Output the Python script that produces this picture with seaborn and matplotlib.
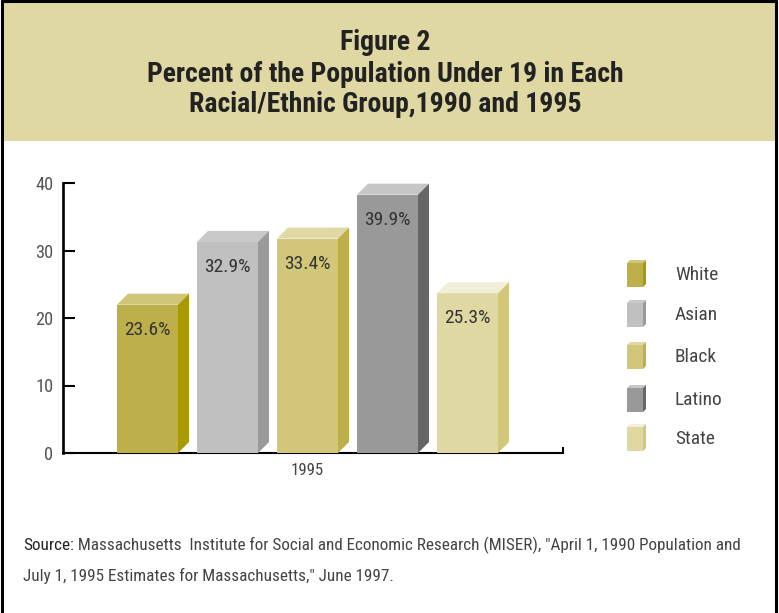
import matplotlib
matplotlib.use("Agg")
import matplotlib.pyplot as plt
from matplotlib import font_manager as fm
from matplotlib.patches import Polygon, Rectangle
from matplotlib.lines import Line2D
import seaborn as sns
import pandas as pd

# ---------------- data ----------------
groups = ["White", "Asian", "Black", "Latino", "State"]
values = [23.6, 32.9, 33.4, 39.9, 25.3]
year_label = "1995"
y_ticks = [0, 10, 20, 30, 40]
title_lines = ["Figure 2",
               "Percent of the Population Under 19 in Each",
               "Racial/Ethnic Group,1990 and 1995"]
source_head = "Source:"
source_line1 = " Massachusetts  Institute for Social and Economic Research (MISER), \"April 1, 1990 Population and"
source_line2 = "July 1, 1995 Estimates for Massachusetts,\" June 1997."

# ---------------- styles ----------------
front_colors = {"White": "#bdb04a", "Asian": "#c0c0c0", "Black": "#d1c67a",
                "Latino": "#999999", "State": "#dfd8a3"}
side_colors = {"White": "#a89a00", "Asian": "#9a9a9a", "Black": "#bdb04a",
               "Latino": "#666666", "State": "#d1c67a"}
top_colors = {"White": "#d0c67a", "Asian": "#c9c9c9", "Black": "#e0d9a5",
              "Latino": "#c6c6c6", "State": "#f2efd9"}

W, H = 779, 613
sns.set_theme(style="white")

# pick a narrow font if one is installed
names = {f.name for f in fm.fontManager.ttflist}
stretch = "normal"
body = None
for n in ["Liberation Sans Narrow", "Roboto Condensed", "Open Sans Condensed", "DejaVu Sans Condensed"]:
    if n in names:
        body = n
        break
if body is None:
    if any(f.name == "DejaVu Sans" and str(f.stretch) in ("condensed", "semi-condensed") for f in fm.fontManager.ttflist):
        body = "DejaVu Sans"
        stretch = "condensed"
    else:
        body = "Liberation Sans"
FAM = [body, "DejaVu Sans"]
plt.rcParams["font.family"] = FAM
plt.rcParams["font.stretch"] = stretch

fig = plt.figure(figsize=(W / 100, H / 100), dpi=100)
fig.patch.set_facecolor("white")
renderer = fig.canvas.get_renderer()


def fx(x):
    return x / W


def fy(y):
    return 1 - y / H


def fit(t, target_px, max_size=None):
    bb = t.get_window_extent(renderer=renderer)
    size = t.get_fontsize() * target_px / bb.width
    if max_size is not None:
        size = min(size, max_size)
    t.set_fontsize(size)
    return size


def size_for(text, target_px, weight="normal"):
    t = fig.text(0, 0, text, fontsize=10, fontweight=weight, family=FAM, fontstretch=stretch)
    s = fit(t, target_px)
    t.remove()
    return s


# header band and frame
fig.add_artist(Rectangle((fx(3), fy(141)), 772 / W, 141 / H, transform=fig.transFigure,
                         facecolor="#dfd8a3", edgecolor="none", zorder=0))
fig.add_artist(Line2D([fx(2), fx(2)], [0, fy(1)], transform=fig.transFigure, color="black", lw=2.2))
fig.add_artist(Line2D([fx(776), fx(776)], [0, fy(1)], transform=fig.transFigure, color="black", lw=2.2))
fig.add_artist(Line2D([fx(2), fx(776)], [fy(1), fy(1)], transform=fig.transFigure, color="black", lw=2.2))

# title
title_size = min(size_for(title_lines[1], 488, "bold"), 20)
for i, line in enumerate(title_lines):
    fig.text(fx(385), fy(43 + 31 * i), line, ha="center", va="center",
             fontsize=title_size, fontweight="bold", color="#222222")

# ---------------- axes ----------------
ax_left, ax_right, ax_top, ax_bottom = 63, 563, 183, 453
ax = fig.add_axes([fx(ax_left), fy(ax_bottom), (ax_right - ax_left) / W, (ax_bottom - ax_top) / H])
ax.set_facecolor("none")

XMIN, XMAX = -0.489, 0.511
YMAX = 40
px_x = (XMAX - XMIN) / (ax_right - ax_left)
px_y = YMAX / (ax_bottom - ax_top)
DX = 11 * px_x
DY = 11 * px_y

df = pd.DataFrame({"year": [year_label] * len(groups), "group": groups, "value": values})
df["front"] = df["value"] - DY

sns.barplot(data=df, x="year", y="front", hue="group", hue_order=groups,
            palette=front_colors, width=0.8, gap=0.2375, saturation=1,
            legend=False, ax=ax, linewidth=0, zorder=2)

val_size = min(size_for("23.6%", 46), 14)
bars = [p for p in ax.patches if isinstance(p, Rectangle)]
for g, v, p in zip(groups, values, bars):
    x0 = p.get_x()
    w = p.get_width()
    h = p.get_height()
    x1 = x0 + w
    ax.add_patch(Polygon([(x0, h), (x0 + DX, h + DY), (x1 + DX, h + DY), (x1, h)],
                         closed=True, facecolor=top_colors[g], edgecolor="none", zorder=2, clip_on=False))
    ax.add_patch(Polygon([(x1, 0), (x1 + DX, DY), (x1 + DX, h + DY), (x1, h)],
                         closed=True, facecolor=side_colors[g], edgecolor="none", zorder=2, clip_on=False))
    ax.text(x0 + w / 2, h - 25 * px_y, f"{v}%", ha="center", va="center",
            fontsize=val_size, color="#333333", zorder=3)

tick_size = min(size_for("40", 18), 14)
year_size = min(size_for(year_label, 33), 13)

ax.set_xlim(XMIN, XMAX)
ax.set_ylim(0, YMAX)
ax.set_yticks(y_ticks)
ax.set_yticklabels([str(t) for t in y_ticks])
ax.set_xticks([0])
ax.set_xticklabels([year_label])
ax.set_xlabel("")
ax.set_ylabel("")
for s in ["top", "right"]:
    ax.spines[s].set_visible(False)
ax.spines["left"].set_color("black")
ax.spines["left"].set_linewidth(1.9)
ax.spines["bottom"].set_color("black")
ax.spines["bottom"].set_linewidth(1.5)
ax.spines["left"].set_zorder(4)
ax.spines["bottom"].set_zorder(1)
ax.tick_params(axis="y", direction="in", length=8.6, width=1.5, color="black",
               labelsize=tick_size, labelcolor="#555555", pad=7, left=True)
ax.tick_params(axis="x", length=0, labelsize=year_size, labelcolor="#444444", pad=7)
ax.set_xticks([XMAX], minor=True)
ax.tick_params(axis="x", which="minor", direction="in", length=4.5, width=1.5, color="black", bottom=True)
ax.grid(False)

# ---------------- legend ----------------
leg_size = min(size_for("White", 43), 14)
row_centers = [274, 314, 356, 399, 438]
for g, c in zip(groups, row_centers):
    x0, x1 = 627, 643
    yt, yb = c - 11, c + 13
    d = 3
    fig.add_artist(Rectangle((fx(x0), fy(yb)), (x1 - x0) / W, (yb - yt) / H,
                             transform=fig.transFigure, facecolor=front_colors[g], edgecolor="none"))
    fig.add_artist(Polygon([(fx(x0), fy(yt)), (fx(x0 + d), fy(yt - d)), (fx(x1 + d), fy(yt - d)), (fx(x1), fy(yt))],
                           closed=True, transform=fig.transFigure, facecolor=top_colors[g], edgecolor="none"))
    fig.add_artist(Polygon([(fx(x1), fy(yb)), (fx(x1 + d), fy(yb - d)), (fx(x1 + d), fy(yt - d)), (fx(x1), fy(yt))],
                           closed=True, transform=fig.transFigure, facecolor=side_colors[g], edgecolor="none"))
    fig.text(fx(675), fy(c + 1), g, ha="left", va="center", fontsize=leg_size, color="#444444")

# ---------------- source ----------------
src_size = size_for(source_head + source_line1, 714)
t_head = fig.text(fx(23), fy(545), source_head, ha="left", va="center", fontsize=src_size, color="#222222")
bb = t_head.get_window_extent(renderer=renderer)
fig.text(bb.x1 / W, fy(545), source_line1, ha="left", va="center", fontsize=src_size, color="#444444")
fig.text(fx(23), fy(576), source_line2, ha="left", va="center", fontsize=src_size, color="#444444")

fig.savefig("out.png", dpi=100, facecolor=fig.get_facecolor())
